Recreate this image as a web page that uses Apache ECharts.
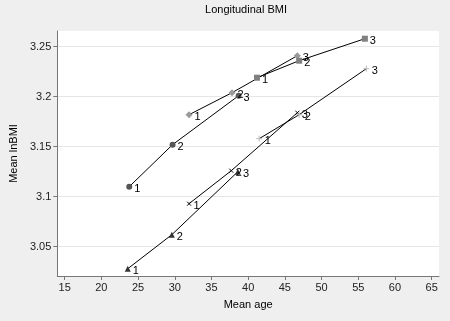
<!DOCTYPE html>
<html><head><meta charset="utf-8">
<script src="https://cdn.jsdelivr.net/npm/echarts@6/dist/echarts.min.js"></script>
<style>html,body{margin:0;padding:0;background:#efefef}#c{width:450px;height:321px}</style>
</head><body><div id="c"></div>
<script>
// Data: [mean age, mean lnBMI]
var pointLabels = ['1', '2', '3'];
var circleAge = [23.8, 29.7, 38.7];
var circleBMI = [3.110, 3.152, 3.201];
var diamondAge = [31.95, 37.8, 46.7];
var diamondBMI = [3.182, 3.204, 3.241];
var squareAge = [41.2, 46.95, 55.9];
var squareBMI = [3.219, 3.236, 3.258];
var triangleAge = [23.6, 29.6, 38.6];
var triangleBMI = [3.028, 3.062, 3.125];
var crossAge = [31.95, 37.7, 46.7];
var crossBMI = [3.093, 3.126, 3.184];
var plusAge = [41.5, 46.95, 56.1];
var plusBMI = [3.158, 3.182, 3.228];
var xTicks = [15, 20, 25, 30, 35, 40, 45, 50, 55, 60, 65];
var yTicks = [3.05, 3.1, 3.15, 3.2, 3.25];

var FONT = '"Liberation Sans", Arial, sans-serif';
function pts(xs, ys) { return xs.map(function (x, i) { return [x, ys[i]]; }); }
function mk(name, xs, ys, symbol, size, color, stroke) {
  var item = stroke ? { color: 'rgba(0,0,0,0)', borderColor: color, borderWidth: 1 } : { color: color };
  return {
    name: name, type: 'line', data: pts(xs, ys), symbol: symbol, symbolSize: size,
    showAllSymbol: true, silent: true, animation: false,
    lineStyle: { color: '#000', width: 1 },
    itemStyle: item,
    label: {
      show: true, position: 'right', distance: 2, offset: [0, 2],
      color: '#000', fontSize: 11, fontFamily: FONT,
      formatter: function (p) { return pointLabels[p.dataIndex]; }
    }
  };
}

var chart = echarts.init(document.getElementById('c'), null, { renderer: 'canvas' });
chart.setOption({
  backgroundColor: '#efefef',
  animation: false,
  title: {
    text: 'Longitudinal BMI', left: 246, top: 4, padding: 0, textAlign: 'center',
    textStyle: { fontSize: 11, fontWeight: 'normal', color: '#000', fontFamily: FONT }
  },
  grid: { left: 54, right: 11, top: 31, bottom: 45, show: true, backgroundColor: '#fff', borderWidth: 0 },
  xAxis: {
    type: 'value', min: 14, max: 66,
    name: 'Mean age', nameLocation: 'middle', nameGap: 23,
    nameTextStyle: { fontSize: 11, color: '#000', fontFamily: FONT },
    axisLine: { show: true, onZero: false, lineStyle: { color: '#777', width: 1 } },
    axisTick: { show: true, length: 4, lineStyle: { color: '#777' }, customValues: xTicks },
    axisLabel: { customValues: xTicks, fontSize: 11, color: '#222', fontFamily: FONT, margin: 6 },
    splitLine: { show: false }
  },
  yAxis: {
    type: 'value', min: 3.0207, max: 3.2657,
    name: 'Mean lnBMI', nameLocation: 'middle', nameGap: 36, nameRotate: 90,
    nameTextStyle: { fontSize: 11, color: '#000', fontFamily: FONT },
    axisLine: { show: true, onZero: false, lineStyle: { color: '#777', width: 1 } },
    axisTick: { show: true, length: 4, lineStyle: { color: '#777' }, customValues: yTicks },
    axisLabel: { customValues: yTicks, fontSize: 11, color: '#222', fontFamily: FONT, margin: 6,
      formatter: function (v) { return String(+v.toFixed(2)); } },
    splitLine: { show: true, lineStyle: { color: '#e6e6e6', width: 1 } }
  },
  series: [
    mk('circle', circleAge, circleBMI, 'circle', 6, '#555'),
    mk('diamond', diamondAge, diamondBMI, 'diamond', 7, '#999'),
    mk('square', squareAge, squareBMI, 'rect', 6, '#808080'),
    mk('triangle', triangleAge, triangleBMI, 'triangle', 6, '#333'),
    mk('cross', crossAge, crossBMI, 'path://M0,0L10,10M10,0L0,10', 4, '#000', true),
    mk('plus', plusAge, plusBMI, 'path://M5,0L5,10M0,5L10,5', 6, '#bbb', true)
  ]
});
</script></body></html>
